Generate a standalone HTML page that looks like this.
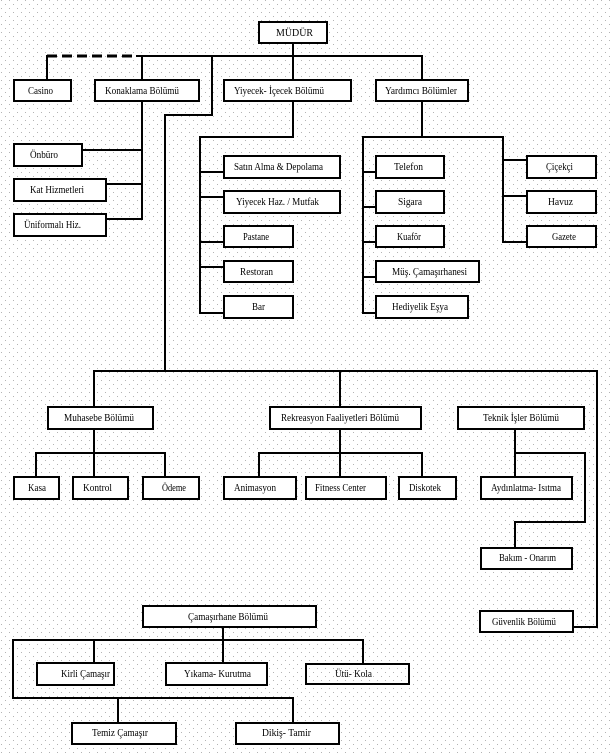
<!DOCTYPE html>
<html>
<head>
<meta charset="utf-8">
<style>
html,body{margin:0;padding:0;background:#fff;}
svg{display:block;}
text{font-family:"Liberation Serif",serif;font-size:10px;fill:#000;}
</style>
</head>
<body>
<svg width="610" height="754" viewBox="0 0 610 754" xmlns="http://www.w3.org/2000/svg">
<defs>
<pattern id="dots" width="8" height="8" patternUnits="userSpaceOnUse">
<rect x="1" y="0" width="1" height="1" fill="#b4b4b4"/>
<rect x="5" y="4" width="1" height="1" fill="#b4b4b4"/>
</pattern>
</defs>
<rect width="610" height="754" fill="#fff"/>
<rect width="610" height="754" fill="url(#dots)"/>

<!-- connectors -->
<g stroke="#000" stroke-width="2" fill="none" stroke-linecap="square">
<!-- top level -->
<line x1="293" y1="44" x2="293" y2="79"/>
<line x1="137" y1="56" x2="422" y2="56"/>
<line x1="422" y1="56" x2="422" y2="79"/>
<line x1="142" y1="56" x2="142" y2="79"/>
<line x1="47" y1="56" x2="47" y2="79"/>
<!-- Konaklama -->
<line x1="142" y1="102" x2="142" y2="219"/>
<line x1="83" y1="150" x2="142" y2="150"/>
<line x1="107" y1="184" x2="142" y2="184"/>
<line x1="107" y1="219" x2="142" y2="219"/>
<!-- long path -->
<polyline points="212,56 212,115 165,115 165,371"/>
<line x1="94" y1="371" x2="597" y2="371"/>
<line x1="94" y1="371" x2="94" y2="406"/>
<line x1="340" y1="371" x2="340" y2="406"/>
<polyline points="597,371 597,627 574,627"/>
<!-- Yiyecek -->
<polyline points="293,102 293,137 200,137 200,313 223,313"/>
<line x1="200" y1="172" x2="223" y2="172"/>
<line x1="200" y1="197" x2="223" y2="197"/>
<line x1="200" y1="242" x2="223" y2="242"/>
<line x1="200" y1="267" x2="223" y2="267"/>
<!-- Yardimci -->
<line x1="422" y1="102" x2="422" y2="137"/>
<line x1="363" y1="137" x2="503" y2="137"/>
<polyline points="363,137 363,313 375,313"/>
<line x1="363" y1="172" x2="375" y2="172"/>
<line x1="363" y1="207" x2="375" y2="207"/>
<line x1="363" y1="242" x2="375" y2="242"/>
<line x1="363" y1="277" x2="375" y2="277"/>
<line x1="503" y1="137" x2="503" y2="242"/>
<line x1="503" y1="160" x2="526" y2="160"/>
<line x1="503" y1="196" x2="526" y2="196"/>
<line x1="503" y1="242" x2="526" y2="242"/>
<!-- Muhasebe -->
<line x1="94" y1="430" x2="94" y2="476"/>
<line x1="36" y1="453" x2="165" y2="453"/>
<line x1="36" y1="453" x2="36" y2="476"/>
<line x1="165" y1="453" x2="165" y2="476"/>
<!-- Rekreasyon -->
<line x1="340" y1="430" x2="340" y2="476"/>
<line x1="259" y1="453" x2="422" y2="453"/>
<line x1="259" y1="453" x2="259" y2="476"/>
<line x1="422" y1="453" x2="422" y2="476"/>
<!-- Teknik -->
<line x1="515" y1="430" x2="515" y2="476"/>
<polyline points="515,453 585,453 585,522 515,522 515,547"/>
<!-- Camasirhane -->
<line x1="223" y1="628" x2="223" y2="662"/>
<line x1="13" y1="640" x2="363" y2="640"/>
<line x1="94" y1="640" x2="94" y2="662"/>
<line x1="363" y1="640" x2="363" y2="663"/>
<polyline points="13,640 13,698 293,698 293,722"/>
<line x1="118" y1="698" x2="118" y2="722"/>
</g>
<!-- dashed casino link -->
<line x1="47" y1="56" x2="137" y2="56" stroke="#000" stroke-width="3" stroke-dasharray="10,5"/>

<!-- boxes -->
<g stroke="#000" stroke-width="2" fill="#fff">
<rect x="259" y="22" width="68" height="21"/>
<rect x="14" y="80" width="57" height="21"/>
<rect x="95" y="80" width="104" height="21"/>
<rect x="224" y="80" width="127" height="21"/>
<rect x="376" y="80" width="92" height="21"/>
<rect x="14" y="144" width="68" height="22"/>
<rect x="14" y="179" width="92" height="22"/>
<rect x="14" y="214" width="92" height="22"/>
<rect x="224" y="156" width="116" height="22"/>
<rect x="224" y="191" width="116" height="22"/>
<rect x="224" y="226" width="69" height="21"/>
<rect x="224" y="261" width="69" height="21"/>
<rect x="224" y="296" width="69" height="22"/>
<rect x="376" y="156" width="68" height="22"/>
<rect x="376" y="191" width="68" height="22"/>
<rect x="376" y="226" width="68" height="21"/>
<rect x="376" y="261" width="103" height="21"/>
<rect x="376" y="296" width="92" height="22"/>
<rect x="527" y="156" width="69" height="22"/>
<rect x="527" y="191" width="69" height="22"/>
<rect x="527" y="226" width="69" height="21"/>
<rect x="48" y="407" width="105" height="22"/>
<rect x="270" y="407" width="151" height="22"/>
<rect x="458" y="407" width="126" height="22"/>
<rect x="14" y="477" width="45" height="22"/>
<rect x="73" y="477" width="55" height="22"/>
<rect x="143" y="477" width="56" height="22"/>
<rect x="224" y="477" width="72" height="22"/>
<rect x="306" y="477" width="80" height="22"/>
<rect x="399" y="477" width="57" height="22"/>
<rect x="481" y="477" width="91" height="22"/>
<rect x="481" y="548" width="91" height="21"/>
<rect x="480" y="611" width="93" height="21"/>
<rect x="143" y="606" width="173" height="21"/>
<rect x="37" y="663" width="77" height="22"/>
<rect x="166" y="663" width="101" height="22"/>
<rect x="306" y="664" width="103" height="20" fill="none"/>
<rect x="72" y="723" width="104" height="21"/>
<rect x="236" y="723" width="103" height="21"/>
</g>

<!-- labels -->
<g lengthAdjust="spacingAndGlyphs">
<text x="276" y="36" textLength="37" lengthAdjust="spacingAndGlyphs">MÜDÜR</text>
<text x="28" y="94" textLength="25" lengthAdjust="spacingAndGlyphs">Casino</text>
<text x="105" y="94" textLength="74" lengthAdjust="spacingAndGlyphs">Konaklama Bölümü</text>
<text x="234" y="94" textLength="90" lengthAdjust="spacingAndGlyphs">Yiyecek- İçecek Bölümü</text>
<text x="385" y="94" textLength="72" lengthAdjust="spacingAndGlyphs">Yardımcı Bölümler</text>
<text x="30" y="158" textLength="28" lengthAdjust="spacingAndGlyphs">Önbüro</text>
<text x="30" y="193" textLength="54" lengthAdjust="spacingAndGlyphs">Kat Hizmetleri</text>
<text x="24" y="228" textLength="57" lengthAdjust="spacingAndGlyphs">Üniformalı Hiz.</text>
<text x="234" y="170" textLength="89" lengthAdjust="spacingAndGlyphs">Satın Alma &amp; Depolama</text>
<text x="236" y="205" textLength="83" lengthAdjust="spacingAndGlyphs">Yiyecek Haz. / Mutfak</text>
<text x="243" y="240" textLength="26" lengthAdjust="spacingAndGlyphs">Pastane</text>
<text x="240" y="275" textLength="33" lengthAdjust="spacingAndGlyphs">Restoran</text>
<text x="252" y="310" textLength="13" lengthAdjust="spacingAndGlyphs">Bar</text>
<text x="394" y="170" textLength="29" lengthAdjust="spacingAndGlyphs">Telefon</text>
<text x="398" y="205" textLength="24" lengthAdjust="spacingAndGlyphs">Sigara</text>
<text x="397" y="240" textLength="24" lengthAdjust="spacingAndGlyphs">Kuaför</text>
<text x="392" y="275" textLength="75" lengthAdjust="spacingAndGlyphs">Müş. Çamaşırhanesi</text>
<text x="392" y="310" textLength="56" lengthAdjust="spacingAndGlyphs">Hediyelik Eşya</text>
<text x="546" y="170" textLength="27" lengthAdjust="spacingAndGlyphs">Çiçekçi</text>
<text x="548" y="205" textLength="25" lengthAdjust="spacingAndGlyphs">Havuz</text>
<text x="552" y="240" textLength="24" lengthAdjust="spacingAndGlyphs">Gazete</text>
<text x="64" y="421" textLength="70" lengthAdjust="spacingAndGlyphs">Muhasebe Bölümü</text>
<text x="281" y="421" textLength="118" lengthAdjust="spacingAndGlyphs">Rekreasyon Faaliyetleri Bölümü</text>
<text x="483" y="421" textLength="76" lengthAdjust="spacingAndGlyphs">Teknik İşler Bölümü</text>
<text x="28" y="491" textLength="18" lengthAdjust="spacingAndGlyphs">Kasa</text>
<text x="83" y="491" textLength="29" lengthAdjust="spacingAndGlyphs">Kontrol</text>
<text x="162" y="491" textLength="24" lengthAdjust="spacingAndGlyphs">Ödeme</text>
<text x="234" y="491" textLength="42" lengthAdjust="spacingAndGlyphs">Animasyon</text>
<text x="315" y="491" textLength="51" lengthAdjust="spacingAndGlyphs">Fitness Center</text>
<text x="409" y="491" textLength="32" lengthAdjust="spacingAndGlyphs">Diskotek</text>
<text x="491" y="491" textLength="70" lengthAdjust="spacingAndGlyphs">Aydınlatma- Isıtma</text>
<text x="499" y="561" textLength="57" lengthAdjust="spacingAndGlyphs">Bakım - Onarım</text>
<text x="492" y="625" textLength="64" lengthAdjust="spacingAndGlyphs">Güvenlik Bölümü</text>
<text x="188" y="620" textLength="80" lengthAdjust="spacingAndGlyphs">Çamaşırhane Bölümü</text>
<text x="61" y="677" textLength="49" lengthAdjust="spacingAndGlyphs">Kirli Çamaşır</text>
<text x="184" y="677" textLength="67" lengthAdjust="spacingAndGlyphs">Yıkama- Kurutma</text>
<text x="335" y="677" textLength="37" lengthAdjust="spacingAndGlyphs">Ütü- Kola</text>
<text x="92" y="736" textLength="56" lengthAdjust="spacingAndGlyphs">Temiz Çamaşır</text>
<text x="262" y="736" textLength="49" lengthAdjust="spacingAndGlyphs">Dikiş- Tamir</text>
</g>
</svg>
</body>
</html>
